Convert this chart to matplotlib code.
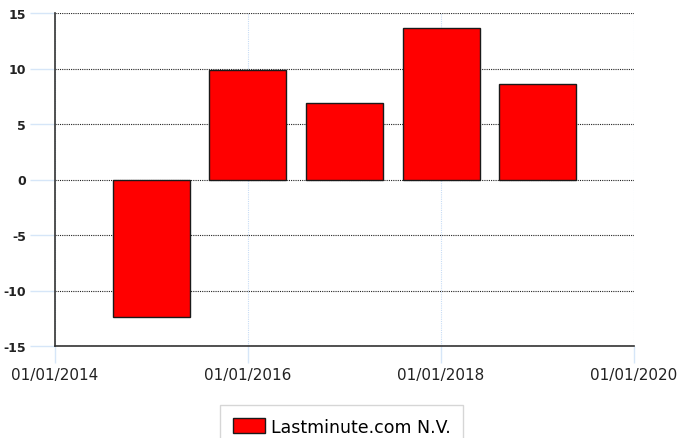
import datetime as dt

import matplotlib

matplotlib.use("Agg")
import matplotlib.dates as mdates
import matplotlib.pyplot as plt

plt.rcParams["axes.unicode_minus"] = False

# Data
years = [2015, 2016, 2017, 2018, 2019]
values = [-12.4, 9.9, 6.9, 13.65, 8.6]
series_name = "Lastminute.com N.V."

dates = [dt.date(y, 1, 1) for y in years]
x_ticks = [dt.date(y, 1, 1) for y in [2014, 2016, 2018, 2020]]
y_ticks = [-15, -10, -5, 0, 5, 10, 15]

fig = plt.figure(figsize=(6.77, 4.39), dpi=100)
ax = fig.add_axes([55 / 677, 1 - 347 / 439, (634 - 55) / 677, (347 - 14) / 439])

ax.bar(dates, values, width=292, color="#ff0000", edgecolor="#1a1a1a",
       linewidth=1.0, label=series_name, zorder=3)

ax.set_xlim(x_ticks[0], x_ticks[-1])
ax.set_ylim(-15, 15)
ax.set_yticks(y_ticks)
ax.set_xticks(x_ticks)
ax.xaxis.set_major_formatter(mdates.DateFormatter("%d/%m/%Y"))

# horizontal dotted grid, faint blue vertical grid
ax.yaxis.grid(True, linestyle=(0, (1, 1)), color="#222222", linewidth=0.8, zorder=1)
ax.xaxis.grid(True, linestyle=(0, (1, 1)), color="#c8dcf5", linewidth=0.8, zorder=1)

for side in ["top", "right"]:
    ax.spines[side].set_visible(False)
for side in ["left", "bottom"]:
    ax.spines[side].set_color("#333333")
    ax.spines[side].set_linewidth(1.2)

ax.tick_params(axis="y", length=18, width=1, color="#d6e6f8", labelsize=9,
               labelcolor="#222222", pad=3)
ax.tick_params(axis="x", length=12, width=1, color="#d6e6f8", labelsize=11,
               labelcolor="#222222", pad=3, direction="out")
for lbl in ax.get_yticklabels():
    lbl.set_fontweight("bold")

leg = fig.legend(loc="lower center", bbox_to_anchor=(341.5 / 677, -0.022),
                 fontsize=12.5, frameon=True, fancybox=False, edgecolor="#cccccc",
                 handlelength=1.85, handleheight=0.9, handletextpad=0.35,
                 borderpad=0.7, borderaxespad=0)

fig.savefig("out.png", dpi=100)
